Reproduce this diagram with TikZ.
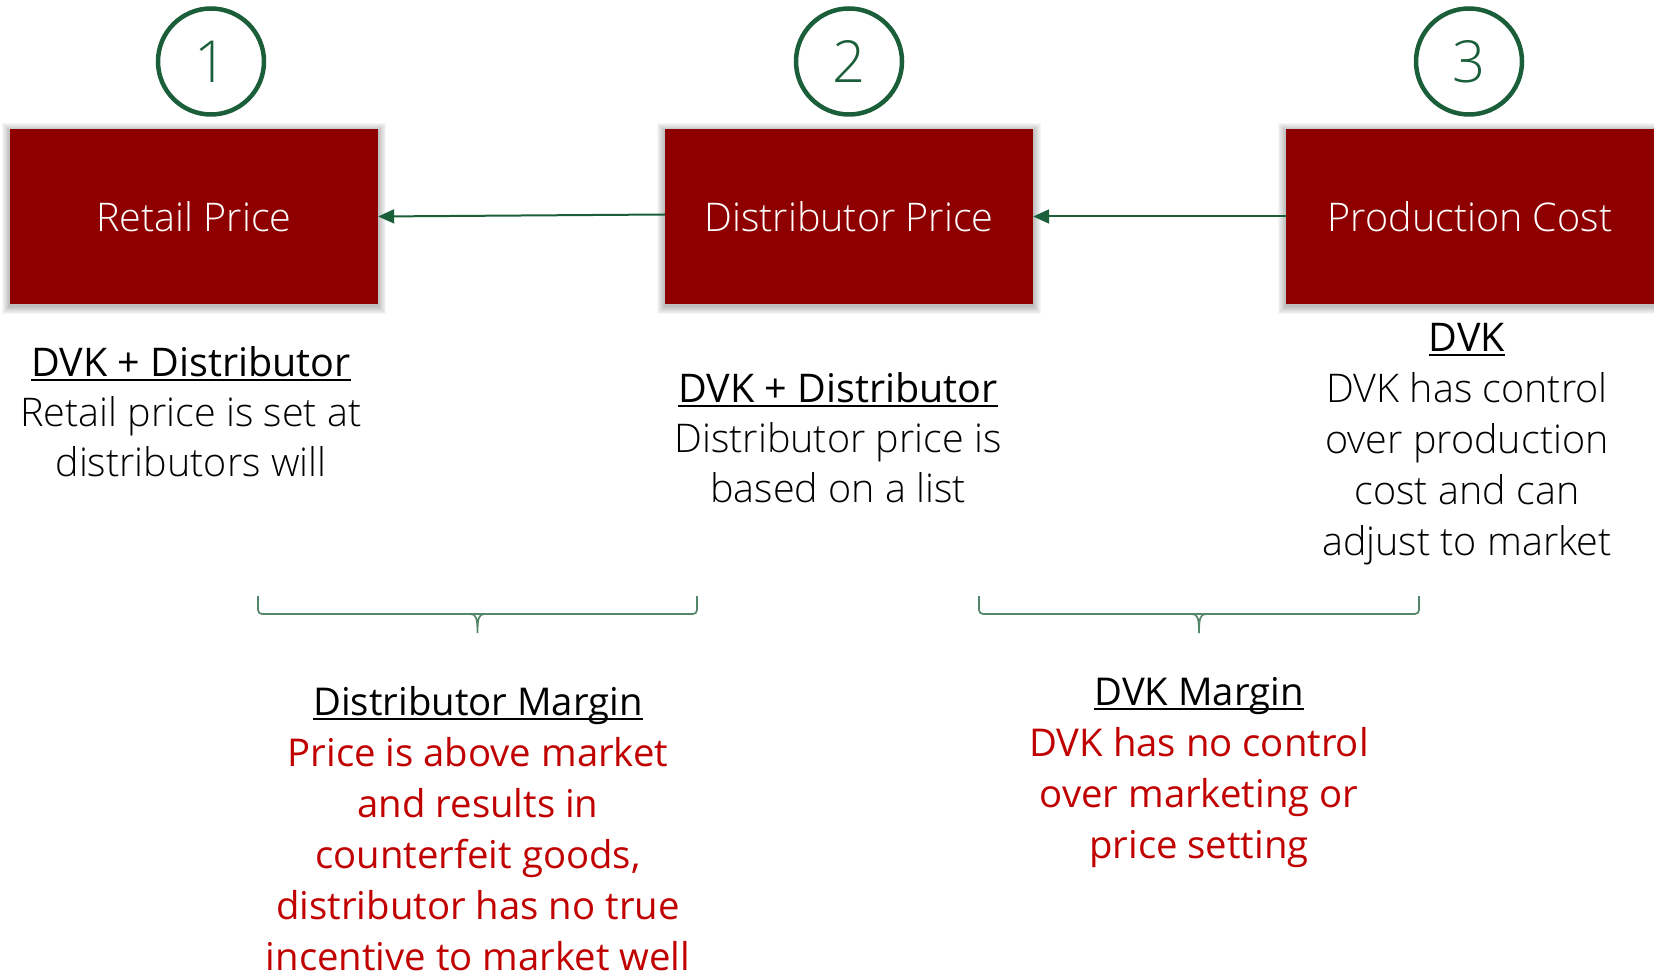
\documentclass[tikz,border=0pt]{standalone}
\usepackage{fontspec}
\setmainfont{Open Sans}
\newfontfamily\lightfont{Open Sans Light}
\usetikzlibrary{arrows.meta,backgrounds}

\definecolor{boxred}{RGB}{142,0,0}
\definecolor{darkgreen}{RGB}{26,94,58}
\definecolor{textred}{RGB}{192,0,0}
\definecolor{bracegreen}{RGB}{84,134,105}

% underline at a fixed depth, independent of descenders
\newcommand\ulined[1]{\setbox0\hbox{#1}\rlap{\rule[-5pt]{\wd0}{2pt}}\box0}
% fixes the distance from the node top to the first baseline
\newcommand\topstrut{\rule{0pt}{40pt}}
% horizontal bracket: left x, right x, middle x (top at y=596)
\newcommand\hbracket[3]{%
  \draw[bracket, rounded corners=4pt] (#1,596) -- (#1,614) -- (#2,614) -- (#2,596);
  \draw[bracket] (#3-7,614) .. controls (#3-1.5,614) and (#3,618) .. (#3,633)
    .. controls (#3,618) and (#3+1.5,614) .. (#3+7,614);}

\begin{document}
\begin{tikzpicture}[x=1pt,y=-1pt,
  stepnum/.style={circle, draw=darkgreen, line width=4.5pt, minimum size=106pt,
    inner sep=0pt, text=darkgreen, font=\lightfont\fontsize{58}{58}\selectfont},
  pricebox/.style={rectangle, fill=boxred, minimum width=368pt, minimum height=175pt,
    inner sep=0pt, text=white, font=\lightfont\fontsize{39.5}{50}\selectfont},
  flow/.style={draw=darkgreen, line width=2pt, -{Triangle[length=16pt,width=14pt]}},
  note/.style={anchor=north, align=center, inner sep=0pt, font=\fontsize{39.5}{50}\selectfont},
  margin/.style={anchor=north, align=center, inner sep=0pt, font=\fontsize{38.3}{51}\selectfont},
  bracket/.style={draw=bracegreen, line width=1.7pt}]

\useasboundingbox (0,0) rectangle (1654,973);

% numbered steps
\node[stepnum] (n1) at (211,61.5) {1};
\node[stepnum] (n2) at (849,61.5) {2};
\node[stepnum] (n3) at (1469,61.5) {3};

% price stages
\node[pricebox] (retail) at (194,216.5) {Retail Price};
\node[pricebox] (dist) at (849,216.5) {Distributor Price};
\node[pricebox] (prod) at (1470,216.5) {Production Cost};

% soft drop shadows behind the stages
\begin{scope}[on background layer]
  \foreach \b in {retail,dist,prod}{
    \foreach \k in {1,...,8}{
      \fill[black, opacity=0.035]
        ([xshift=-\k pt, yshift=\k pt - 2pt]\b.north west) rectangle
        ([xshift=\k pt, yshift=-\k pt - 2pt]\b.south east);
    }
  }
\end{scope}

% flow between stages
\draw[flow] ([yshift=2pt]dist.west) -- (retail.east);
\draw[flow] (prod.west) -- (dist.east);

% descriptions under each stage
\node[note] (d1) at (191,336) {\topstrut\ulined{DVK + Distributor}\\
  {\lightfont Retail price is set at}\\ {\lightfont distributors will}};
\node[note] (d2) at (838,362) {\topstrut\ulined{DVK + Distributor}\\
  {\lightfont Distributor price is}\\ {\lightfont based on a list}};
\node[note, font=\fontsize{39.5}{51}\selectfont] (d3) at (1467,311) {\topstrut\ulined{DVK}\\
  {\lightfont DVK has control}\\ {\lightfont over production}\\
  {\lightfont cost and can}\\ {\lightfont adjust to market}};

% brackets spanning the margins
\hbracket{258}{697}{477.5}
\hbracket{979}{1419}{1199}

% margin notes
\node[margin] (m1) at (478,675) {\topstrut\ulined{Distributor Margin}\\
  \textcolor{textred}{Price is above market}\\
  \textcolor{textred}{and results in}\\
  \textcolor{textred}{counterfeit goods,}\\
  \textcolor{textred}{distributor has no true}\\
  \textcolor{textred}{incentive to market well}};
\node[margin] (m2) at (1199,665) {\topstrut\ulined{DVK Margin}\\
  \textcolor{textred}{DVK has no control}\\
  \textcolor{textred}{over marketing or}\\
  \textcolor{textred}{price setting}};
\end{tikzpicture}
\end{document}
